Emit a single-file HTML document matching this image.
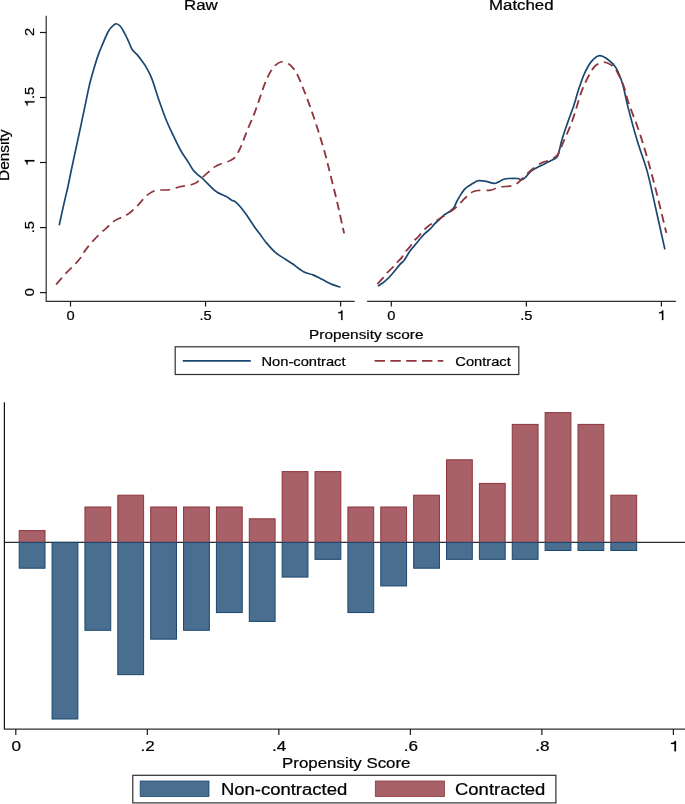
<!DOCTYPE html>
<html><head><meta charset="utf-8"><title>Propensity score</title>
<style>
html,body{margin:0;padding:0;background:#fff;}
body{width:685px;height:804px;overflow:hidden;}
svg{display:block;will-change:transform;}
text{font-family:"Liberation Sans", sans-serif;fill:#000;stroke:#000;stroke-width:0.22px;}
</style></head>
<body>
<svg width="685" height="804" viewBox="0 0 685 804">
<rect width="685" height="804" fill="#fff"/>
<text transform="translate(200.80,9.90) scale(1.220,1)" text-anchor="middle" font-size="13.80" >Raw</text>
<text transform="translate(521.30,9.90) scale(1.220,1)" text-anchor="middle" font-size="13.80" >Matched</text>
<path d="M46.2,15.8 V301.9" stroke="#2e2e2e" stroke-width="1.2" fill="none"/>
<path d="M40,292.60 H46.2" stroke="#151515" stroke-width="1.2"/>
<text transform="translate(34.40,292.10) rotate(-90) scale(1.080,1)" text-anchor="middle" font-size="13.60" >0</text>
<path d="M40,227.60 H46.2" stroke="#151515" stroke-width="1.2"/>
<text transform="translate(34.40,227.10) rotate(-90) scale(1.080,1)" text-anchor="middle" font-size="13.60" >.5</text>
<path d="M40,162.50 H46.2" stroke="#151515" stroke-width="1.2"/>
<g transform="translate(34.40,162.00) rotate(-90) scale(1.080,1)"><path transform="translate(-3.781,0) scale(13.600)" d="M0.407,0 L0.317,0 L0.317,-0.498 L0.112,-0.498 L0.112,-0.566 C0.235,-0.574 0.312,-0.614 0.333,-0.703 L0.407,-0.703 Z" fill="#000" stroke="#000" stroke-width="0.0162"/></g>
<path d="M40,97.50 H46.2" stroke="#151515" stroke-width="1.2"/>
<g transform="translate(34.40,97.00) rotate(-90) scale(1.080,1)"><path transform="translate(-9.452,0) scale(13.600)" d="M0.407,0 L0.317,0 L0.317,-0.498 L0.112,-0.498 L0.112,-0.566 C0.235,-0.574 0.312,-0.614 0.333,-0.703 L0.407,-0.703 Z" fill="#000" stroke="#000" stroke-width="0.0162"/><text x="-1.890" y="0" font-size="13.60">.5</text></g>
<path d="M40,32.50 H46.2" stroke="#151515" stroke-width="1.2"/>
<text transform="translate(34.40,32.00) rotate(-90) scale(1.080,1)" text-anchor="middle" font-size="13.60" >2</text>
<text transform="translate(9.20,155.30) rotate(-90) scale(1.100,1)" text-anchor="middle" font-size="14.00" >Density</text>
<path d="M46.20,301.3 H354.70" stroke="#2e2e2e" stroke-width="1.2"/>
<path d="M70.50,301.3 V306.5" stroke="#151515" stroke-width="1.2"/>
<text transform="translate(70.50,320.00) scale(1.080,1)" text-anchor="middle" font-size="13.60" >0</text>
<path d="M205.55,301.3 V306.5" stroke="#151515" stroke-width="1.2"/>
<text transform="translate(205.55,320.00) scale(1.080,1)" text-anchor="middle" font-size="13.60" >.5</text>
<path d="M340.60,301.3 V306.5" stroke="#151515" stroke-width="1.2"/>
<g transform="translate(340.60,320.00) scale(1.080,1)"><path transform="translate(-3.781,0) scale(13.600)" d="M0.407,0 L0.317,0 L0.317,-0.498 L0.112,-0.498 L0.112,-0.566 C0.235,-0.574 0.312,-0.614 0.333,-0.703 L0.407,-0.703 Z" fill="#000" stroke="#000" stroke-width="0.0162"/></g>
<path d="M367.10,301.3 H675.90" stroke="#2e2e2e" stroke-width="1.2"/>
<path d="M391.30,301.3 V306.5" stroke="#151515" stroke-width="1.2"/>
<text transform="translate(391.30,320.00) scale(1.080,1)" text-anchor="middle" font-size="13.60" >0</text>
<path d="M526.35,301.3 V306.5" stroke="#151515" stroke-width="1.2"/>
<text transform="translate(526.35,320.00) scale(1.080,1)" text-anchor="middle" font-size="13.60" >.5</text>
<path d="M661.40,301.3 V306.5" stroke="#151515" stroke-width="1.2"/>
<g transform="translate(661.40,320.00) scale(1.080,1)"><path transform="translate(-3.781,0) scale(13.600)" d="M0.407,0 L0.317,0 L0.317,-0.498 L0.112,-0.498 L0.112,-0.566 C0.235,-0.574 0.312,-0.614 0.333,-0.703 L0.407,-0.703 Z" fill="#000" stroke="#000" stroke-width="0.0162"/></g>
<text transform="translate(366.30,338.80) scale(1.130,1)" text-anchor="middle" font-size="13.60" >Propensity score</text>
<path d="M59.20,225.20 C60.05,221.35 62.87,208.43 64.30,202.10 C65.73,195.77 66.60,192.67 67.80,187.20 C69.00,181.73 70.08,176.02 71.50,169.30 C72.92,162.58 74.72,154.27 76.30,146.90 C77.88,139.53 79.48,132.23 81.00,125.10 C82.52,117.97 84.00,110.77 85.40,104.10 C86.80,97.43 88.00,90.95 89.40,85.10 C90.80,79.25 92.33,74.00 93.80,69.00 C95.27,64.00 96.73,59.23 98.20,55.10 C99.67,50.97 101.02,47.97 102.60,44.20 C104.18,40.43 106.25,35.30 107.70,32.50 C109.15,29.70 109.97,28.85 111.30,27.40 C112.63,25.95 114.23,24.03 115.70,23.80 C117.17,23.57 118.63,24.43 120.10,26.00 C121.57,27.57 123.05,30.53 124.50,33.20 C125.95,35.87 127.55,39.32 128.80,42.00 C130.05,44.68 130.65,47.23 132.00,49.30 C133.35,51.37 135.23,52.45 136.90,54.40 C138.57,56.35 140.42,58.80 142.00,61.00 C143.58,63.20 144.73,64.58 146.40,67.60 C148.07,70.62 149.92,73.70 152.00,79.10 C154.08,84.50 156.58,93.32 158.90,100.00 C161.22,106.68 163.57,113.40 165.90,119.20 C168.23,125.00 170.43,129.58 172.90,134.80 C175.37,140.02 178.25,146.13 180.70,150.50 C183.15,154.87 185.57,157.80 187.60,161.00 C189.63,164.20 191.15,167.38 192.90,169.70 C194.65,172.02 196.22,173.17 198.10,174.90 C199.98,176.63 202.03,178.07 204.20,180.10 C206.37,182.13 208.93,185.07 211.10,187.10 C213.27,189.13 214.62,190.70 217.20,192.30 C219.78,193.90 224.23,195.43 226.60,196.70 C228.97,197.97 229.82,198.95 231.40,199.90 C232.98,200.85 234.52,201.13 236.10,202.40 C237.68,203.67 239.15,205.38 240.90,207.50 C242.65,209.62 244.38,211.93 246.60,215.10 C248.82,218.27 251.98,223.33 254.20,226.50 C256.42,229.67 258.02,231.57 259.90,234.10 C261.78,236.63 262.98,238.70 265.50,241.70 C268.02,244.70 271.67,249.17 275.00,252.10 C278.33,255.03 282.65,257.40 285.50,259.30 C288.35,261.20 289.10,261.43 292.10,263.50 C295.10,265.57 300.02,269.80 303.50,271.70 C306.98,273.60 309.83,273.58 313.00,274.90 C316.17,276.22 319.33,278.02 322.50,279.60 C325.67,281.18 329.00,283.13 332.00,284.40 C335.00,285.67 339.08,286.73 340.50,287.20" stroke="#1a476f" stroke-width="1.7" fill="none" stroke-linejoin="round"/>
<g transform="scale(1.170,1)"><path d="M47.95,284.40 C49.37,282.52 53.70,276.58 56.50,273.10 C59.29,269.62 62.65,266.03 64.70,263.50 C66.75,260.97 67.55,259.90 68.80,257.90 C70.06,255.90 70.85,253.78 72.22,251.50 C73.59,249.22 75.06,246.88 77.01,244.20 C78.96,241.52 81.64,238.07 83.93,235.40 C86.23,232.73 88.49,230.60 90.77,228.20 C93.05,225.80 95.54,222.75 97.61,221.00 C99.67,219.25 101.10,218.92 103.16,217.70 C105.23,216.48 107.61,215.70 110.00,213.70 C112.39,211.70 115.47,208.10 117.52,205.70 C119.57,203.30 120.81,201.17 122.31,199.30 C123.80,197.43 124.66,195.98 126.50,194.50 C128.33,193.02 130.28,191.20 133.33,190.40 C136.38,189.60 141.40,190.32 144.79,189.70 C148.18,189.08 150.70,187.48 153.68,186.70 C156.65,185.92 160.30,185.67 162.65,185.00 C165.00,184.33 165.80,184.23 167.78,182.70 C169.76,181.17 171.92,178.42 174.53,175.80 C177.14,173.18 180.94,169.03 183.42,167.00 C185.90,164.97 187.17,164.67 189.40,163.60 C191.64,162.53 194.86,161.77 196.84,160.60 C198.82,159.43 199.80,158.87 201.28,156.60 C202.76,154.33 204.03,151.43 205.73,147.00 C207.42,142.57 209.53,135.52 211.45,130.00 C213.38,124.48 215.46,119.35 217.26,113.90 C219.07,108.45 220.63,102.82 222.31,97.30 C223.99,91.78 225.50,85.73 227.35,80.80 C229.20,75.87 231.23,70.87 233.42,67.70 C235.61,64.53 238.15,62.30 240.51,61.80 C242.88,61.30 245.41,62.72 247.61,64.70 C249.80,66.68 251.65,69.45 253.68,73.70 C255.70,77.95 257.72,84.30 259.74,90.20 C261.77,96.10 263.79,102.40 265.81,109.10 C267.83,115.80 269.86,122.90 271.88,130.40 C273.90,137.90 276.10,146.22 277.95,154.10 C279.80,161.98 281.31,169.82 282.99,177.70 C284.67,185.58 286.18,192.13 288.03,201.40 C289.89,210.67 293.09,227.98 294.10,233.30" stroke="#90353b" stroke-width="1.6" fill="none" stroke-dasharray="8.297 4.936" stroke-linejoin="round"/></g>
<path d="M377.90,286.10 C379.00,285.37 382.17,283.68 384.50,281.70 C386.83,279.72 389.35,277.05 391.90,274.20 C394.45,271.35 397.75,266.93 399.80,264.60 C401.85,262.27 402.45,262.53 404.20,260.20 C405.95,257.87 408.12,253.58 410.30,250.60 C412.48,247.62 415.60,244.37 417.30,242.30 C419.00,240.23 419.17,239.73 420.50,238.20 C421.83,236.67 423.63,234.68 425.30,233.10 C426.97,231.52 428.97,230.23 430.50,228.70 C432.03,227.17 433.03,225.43 434.50,223.90 C435.97,222.37 437.63,221.03 439.30,219.50 C440.97,217.97 442.90,215.95 444.50,214.70 C446.10,213.45 447.37,213.10 448.90,212.00 C450.43,210.90 452.38,209.85 453.70,208.10 C455.02,206.35 455.70,203.62 456.80,201.50 C457.90,199.38 459.13,197.30 460.30,195.40 C461.47,193.50 462.57,191.57 463.80,190.10 C465.03,188.63 466.23,187.68 467.70,186.60 C469.17,185.52 471.05,184.53 472.60,183.60 C474.15,182.67 475.83,181.50 477.00,181.00 C478.17,180.50 478.08,180.53 479.60,180.60 C481.12,180.67 483.68,180.93 486.10,181.40 C488.52,181.87 492.10,183.28 494.10,183.40 C496.10,183.52 496.50,182.78 498.10,182.10 C499.70,181.42 501.97,179.90 503.70,179.30 C505.43,178.70 506.22,178.63 508.50,178.50 C510.78,178.37 515.25,178.28 517.40,178.50 C519.55,178.72 520.07,180.00 521.40,179.80 C522.73,179.60 523.67,178.85 525.40,177.30 C527.13,175.75 529.25,172.43 531.80,170.50 C534.35,168.57 537.88,167.17 540.70,165.70 C543.52,164.23 546.03,163.10 548.70,161.70 C551.37,160.30 554.97,159.05 556.70,157.30 C558.43,155.55 558.17,154.33 559.10,151.20 C560.03,148.07 560.85,143.35 562.30,138.50 C563.75,133.65 565.97,127.35 567.80,122.10 C569.63,116.85 571.48,112.47 573.30,107.00 C575.12,101.53 576.88,94.77 578.70,89.30 C580.52,83.83 582.13,78.77 584.20,74.20 C586.27,69.63 588.58,65.00 591.10,61.90 C593.62,58.80 596.57,56.05 599.30,55.60 C602.03,55.15 604.77,57.23 607.50,59.20 C610.23,61.17 613.20,63.30 615.70,67.40 C618.20,71.50 620.40,76.97 622.50,83.80 C624.60,90.63 625.82,98.82 628.30,108.40 C630.78,117.98 634.25,130.80 637.40,141.30 C640.55,151.80 644.20,160.47 647.20,171.40 C650.20,182.33 652.45,193.90 655.40,206.90 C658.35,219.90 663.32,242.32 664.90,249.40" stroke="#1a476f" stroke-width="1.7" fill="none" stroke-linejoin="round"/>
<g transform="scale(1.170,1)"><path d="M322.56,283.90 C323.38,282.87 326.13,279.45 327.44,277.70 C328.75,275.95 329.05,275.15 330.43,273.40 C331.81,271.65 334.34,268.88 335.73,267.20 C337.11,265.52 337.41,264.97 338.72,263.30 C340.03,261.63 342.35,259.03 343.59,257.20 C344.83,255.37 344.97,254.13 346.15,252.30 C347.34,250.47 349.49,248.02 350.68,246.20 C351.88,244.38 352.17,243.02 353.33,241.40 C354.50,239.78 356.25,238.33 357.69,236.50 C359.13,234.67 360.38,232.28 361.97,230.40 C363.55,228.52 365.56,226.65 367.18,225.20 C368.80,223.75 370.09,222.95 371.71,221.70 C373.33,220.45 375.17,219.02 376.92,217.70 C378.68,216.38 380.41,215.18 382.22,213.80 C384.03,212.42 386.17,210.87 387.78,209.40 C389.39,207.93 390.44,206.68 391.88,205.00 C393.32,203.32 394.97,200.97 396.41,199.30 C397.85,197.63 399.26,196.23 400.51,195.00 C401.77,193.77 402.59,192.65 403.93,191.90 C405.27,191.15 405.94,190.80 408.55,190.50 C411.15,190.20 416.60,190.67 419.57,190.10 C422.55,189.53 423.43,187.82 426.41,187.10 C429.39,186.38 434.69,186.55 437.44,185.80 C440.19,185.05 441.08,184.22 442.91,182.60 C444.73,180.98 446.32,178.38 448.38,176.10 C450.43,173.82 452.69,171.17 455.21,168.90 C457.74,166.63 460.98,163.97 463.50,162.50 C466.03,161.03 468.53,161.02 470.34,160.10 C472.15,159.18 473.22,158.08 474.36,157.00 C475.50,155.92 475.90,156.35 477.18,153.60 C478.46,150.85 480.40,144.92 482.05,140.50 C483.70,136.08 485.51,131.82 487.09,127.10 C488.68,122.38 490.16,117.18 491.54,112.20 C492.92,107.22 494.10,101.68 495.38,97.20 C496.67,92.72 497.74,89.27 499.23,85.30 C500.73,81.33 502.76,76.63 504.36,73.40 C505.95,70.17 506.99,67.77 508.80,65.90 C510.61,64.03 513.09,62.45 515.21,62.20 C517.34,61.95 519.63,63.03 521.54,64.40 C523.45,65.77 525.07,67.67 526.67,70.40 C528.26,73.13 529.94,77.82 531.11,80.80 C532.28,83.78 532.65,84.62 533.68,88.30 C534.70,91.98 535.23,95.90 537.26,102.90 C539.30,109.90 543.25,121.17 545.90,130.30 C548.55,139.43 550.60,147.20 553.16,157.70 C555.73,168.20 558.56,180.77 561.28,193.30 C564.00,205.83 568.12,226.30 569.49,232.90" stroke="#90353b" stroke-width="1.6" fill="none" stroke-dasharray="8.515 5.065" stroke-linejoin="round"/></g>
<rect x="175.2" y="346.8" width="343.6" height="27.7" fill="none" stroke="#2e2e2e" stroke-width="1.2"/>
<path d="M182.8,360.8 H250.8" stroke="#1a476f" stroke-width="1.75"/>
<path d="M374.6,360.8 H443.3" stroke="#90353b" stroke-width="1.7" stroke-dasharray="10.4 5.4"/>
<text transform="translate(261.50,365.50) scale(1.080,1)" text-anchor="start" font-size="13.60" >Non-contract</text>
<text transform="translate(455.30,365.50) scale(1.080,1)" text-anchor="start" font-size="13.60" >Contract</text>
<path d="M4.4,542.40 H685" stroke="#2e2e2e" stroke-width="1.2"/>
<rect x="19.20" y="530.60" width="25.80" height="11.80" fill="#a86069" stroke="#90353b" stroke-width="1.0"/>
<rect x="19.20" y="542.40" width="25.80" height="25.81" fill="#4a6e8f" stroke="#1a476f" stroke-width="1.0"/>
<rect x="52.07" y="542.40" width="25.80" height="176.60" fill="#4a6e8f" stroke="#1a476f" stroke-width="1.0"/>
<rect x="84.94" y="507.00" width="25.80" height="35.40" fill="#a86069" stroke="#90353b" stroke-width="1.0"/>
<rect x="84.94" y="542.40" width="25.80" height="87.90" fill="#4a6e8f" stroke="#1a476f" stroke-width="1.0"/>
<rect x="117.81" y="495.20" width="25.80" height="47.20" fill="#a86069" stroke="#90353b" stroke-width="1.0"/>
<rect x="117.81" y="542.40" width="25.80" height="132.25" fill="#4a6e8f" stroke="#1a476f" stroke-width="1.0"/>
<rect x="150.68" y="507.00" width="25.80" height="35.40" fill="#a86069" stroke="#90353b" stroke-width="1.0"/>
<rect x="150.68" y="542.40" width="25.80" height="96.77" fill="#4a6e8f" stroke="#1a476f" stroke-width="1.0"/>
<rect x="183.55" y="507.00" width="25.80" height="35.40" fill="#a86069" stroke="#90353b" stroke-width="1.0"/>
<rect x="183.55" y="542.40" width="25.80" height="87.90" fill="#4a6e8f" stroke="#1a476f" stroke-width="1.0"/>
<rect x="216.42" y="507.00" width="25.80" height="35.40" fill="#a86069" stroke="#90353b" stroke-width="1.0"/>
<rect x="216.42" y="542.40" width="25.80" height="70.16" fill="#4a6e8f" stroke="#1a476f" stroke-width="1.0"/>
<rect x="249.29" y="518.80" width="25.80" height="23.60" fill="#a86069" stroke="#90353b" stroke-width="1.0"/>
<rect x="249.29" y="542.40" width="25.80" height="79.03" fill="#4a6e8f" stroke="#1a476f" stroke-width="1.0"/>
<rect x="282.16" y="471.60" width="25.80" height="70.80" fill="#a86069" stroke="#90353b" stroke-width="1.0"/>
<rect x="282.16" y="542.40" width="25.80" height="34.68" fill="#4a6e8f" stroke="#1a476f" stroke-width="1.0"/>
<rect x="315.03" y="471.60" width="25.80" height="70.80" fill="#a86069" stroke="#90353b" stroke-width="1.0"/>
<rect x="315.03" y="542.40" width="25.80" height="16.94" fill="#4a6e8f" stroke="#1a476f" stroke-width="1.0"/>
<rect x="347.90" y="507.00" width="25.80" height="35.40" fill="#a86069" stroke="#90353b" stroke-width="1.0"/>
<rect x="347.90" y="542.40" width="25.80" height="70.16" fill="#4a6e8f" stroke="#1a476f" stroke-width="1.0"/>
<rect x="380.77" y="507.00" width="25.80" height="35.40" fill="#a86069" stroke="#90353b" stroke-width="1.0"/>
<rect x="380.77" y="542.40" width="25.80" height="43.55" fill="#4a6e8f" stroke="#1a476f" stroke-width="1.0"/>
<rect x="413.64" y="495.20" width="25.80" height="47.20" fill="#a86069" stroke="#90353b" stroke-width="1.0"/>
<rect x="413.64" y="542.40" width="25.80" height="25.81" fill="#4a6e8f" stroke="#1a476f" stroke-width="1.0"/>
<rect x="446.51" y="459.80" width="25.80" height="82.60" fill="#a86069" stroke="#90353b" stroke-width="1.0"/>
<rect x="446.51" y="542.40" width="25.80" height="16.94" fill="#4a6e8f" stroke="#1a476f" stroke-width="1.0"/>
<rect x="479.38" y="483.40" width="25.80" height="59.00" fill="#a86069" stroke="#90353b" stroke-width="1.0"/>
<rect x="479.38" y="542.40" width="25.80" height="16.94" fill="#4a6e8f" stroke="#1a476f" stroke-width="1.0"/>
<rect x="512.25" y="424.40" width="25.80" height="118.00" fill="#a86069" stroke="#90353b" stroke-width="1.0"/>
<rect x="512.25" y="542.40" width="25.80" height="16.94" fill="#4a6e8f" stroke="#1a476f" stroke-width="1.0"/>
<rect x="545.12" y="412.60" width="25.80" height="129.80" fill="#a86069" stroke="#90353b" stroke-width="1.0"/>
<rect x="545.12" y="542.40" width="25.80" height="8.07" fill="#4a6e8f" stroke="#1a476f" stroke-width="1.0"/>
<rect x="577.99" y="424.40" width="25.80" height="118.00" fill="#a86069" stroke="#90353b" stroke-width="1.0"/>
<rect x="577.99" y="542.40" width="25.80" height="8.07" fill="#4a6e8f" stroke="#1a476f" stroke-width="1.0"/>
<rect x="610.86" y="495.20" width="25.80" height="47.20" fill="#a86069" stroke="#90353b" stroke-width="1.0"/>
<rect x="610.86" y="542.40" width="25.80" height="8.07" fill="#4a6e8f" stroke="#1a476f" stroke-width="1.0"/>
<path d="M4.4,402.2 V729.1" stroke="#111" stroke-width="1.2"/>
<path d="M3.8,729.1 H685" stroke="#2e2e2e" stroke-width="1.2"/>
<path d="M15.80,729.1 V735" stroke="#151515" stroke-width="1.2"/>
<text transform="translate(16.20,751.20) scale(1.170,1)" text-anchor="middle" font-size="14.60" >0</text>
<path d="M147.32,729.1 V735" stroke="#151515" stroke-width="1.2"/>
<text transform="translate(147.72,751.20) scale(1.170,1)" text-anchor="middle" font-size="14.60" >.2</text>
<path d="M278.84,729.1 V735" stroke="#151515" stroke-width="1.2"/>
<text transform="translate(279.24,751.20) scale(1.170,1)" text-anchor="middle" font-size="14.60" >.4</text>
<path d="M410.36,729.1 V735" stroke="#151515" stroke-width="1.2"/>
<text transform="translate(410.76,751.20) scale(1.170,1)" text-anchor="middle" font-size="14.60" >.6</text>
<path d="M541.88,729.1 V735" stroke="#151515" stroke-width="1.2"/>
<text transform="translate(542.28,751.20) scale(1.170,1)" text-anchor="middle" font-size="14.60" >.8</text>
<path d="M673.40,729.1 V735" stroke="#151515" stroke-width="1.2"/>
<g transform="translate(673.80,751.20) scale(1.170,1)"><path transform="translate(-4.059,0) scale(14.600)" d="M0.407,0 L0.317,0 L0.317,-0.498 L0.112,-0.498 L0.112,-0.566 C0.235,-0.574 0.312,-0.614 0.333,-0.703 L0.407,-0.703 Z" fill="#000" stroke="#000" stroke-width="0.0151"/></g>
<text transform="translate(346.30,767.90) scale(1.155,1)" text-anchor="middle" font-size="14.60" >Propensity Score</text>
<rect x="132.8" y="775.3" width="423.1" height="27.6" fill="none" stroke="#2e2e2e" stroke-width="1.2"/>
<rect x="140.2" y="781" width="68.8" height="15.5" fill="#4a6e8f" stroke="#1a476f" stroke-width="0.8"/>
<rect x="375.3" y="781" width="69.1" height="15.5" fill="#a86069" stroke="#90353b" stroke-width="0.8"/>
<text transform="translate(220.90,795.20) scale(1.185,1)" text-anchor="start" font-size="15.60" >Non-contracted</text>
<text transform="translate(455.00,795.20) scale(1.185,1)" text-anchor="start" font-size="15.60" >Contracted</text>
</svg>
</body></html>
